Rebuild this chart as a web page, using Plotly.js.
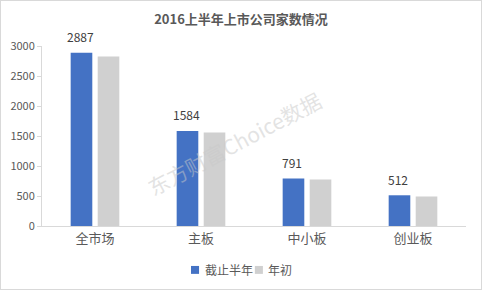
<!DOCTYPE html>
<html><head><meta charset="utf-8">
<script src="https://cdn.plot.ly/plotly-3.0.1.min.js"></script>
<style>
html,body{margin:0;padding:0;background:#fff;}
#wrap{width:482px;height:290px;box-sizing:border-box;border:1px solid #d9d9d9;overflow:hidden;}
#chart{width:480px;height:288px;}
</style></head>
<body><div id="wrap"><div id="chart"></div></div>
<script>
const categories = ["全市场", "主板", "中小板", "创业板"];
const seriesNames = ["截止半年", "年初"];
const seriesColors = ["#4472c4", "#d0d0d0"];
const midYear = [2887, 1584, 791, 512];
const yearStart = [2827, 1559, 776, 492];
const yTicks = [0, 500, 1000, 1500, 2000, 2500, 3000];
const titleText = "2016上半年上市公司家数情况";
const watermark = "东方财富Choice数据";

const font = "'Noto Sans CJK SC', 'Microsoft YaHei', sans-serif";
const data = [
  {type:"bar", name:seriesNames[0], x:categories, y:midYear,
   marker:{color:seriesColors[0]}, hoverinfo:"none", showlegend:false},
  {type:"bar", name:seriesNames[1], x:categories, y:yearStart,
   marker:{color:seriesColors[1]}, hoverinfo:"none", showlegend:false}
];
// data labels on the first series (offset to the left bar in each group)
const labelAnn = categories.map((c, i) => ({
  x:c, y:midYear[i], xref:"x", yref:"y", text:String(midYear[i]), showarrow:false,
  xshift:-15, yshift:16, font:{size:12, color:"#404040", family:font}
}));
// custom legend: swatches + names
const legendPos = [{sq:0.3514, tx:0.380}, {sq:0.502, tx:0.529}];
const legendAnn = seriesNames.map((n, i) => ({
  text:n, x:legendPos[i].tx, y:-0.244, xref:"paper", yref:"paper", xanchor:"left", yanchor:"middle",
  showarrow:false, font:{size:12, color:"#595959", family:font}
}));
const legendShapes = seriesNames.map((n, i) => ({
  type:"rect", xref:"paper", yref:"paper", x0:legendPos[i].sq, x1:legendPos[i].sq + 0.019,
  y0:-0.222, y1:-0.266, fillcolor:seriesColors[i], line:{width:0}
}));

const layout = {
  width:480, height:288,
  margin:{l:41, r:15, t:45, b:63},
  paper_bgcolor:"#fff", plot_bgcolor:"#fff",
  font:{family:font, color:"#595959", size:11},
  title:{text:"<b>"+titleText+"</b>", x:0.5, xanchor:"center", y:0.935, yanchor:"middle",
         font:{size:13, color:"#595959", family:font}},
  bargap:0.49, bargroupgap:0.2, barmode:"group",
  xaxis:{showline:true, linecolor:"#d9d9d9", linewidth:1, ticks:"", showgrid:false,
         tickfont:{size:13, color:"#595959"}, fixedrange:true},
  yaxis:{range:[0,3000], tickvals:yTicks, showline:true, linecolor:"#d9d9d9", linewidth:1,
         ticks:"outside", ticklen:4, tickcolor:"#d9d9d9", showgrid:false, zeroline:false,
         tickfont:{size:11, color:"#595959"}, fixedrange:true},
  showlegend:false,
  shapes:legendShapes,
  annotations:[{text:watermark, xref:"paper", yref:"paper", x:0.455, y:0.46,
    showarrow:false, textangle:-28, font:{size:21, color:"rgba(200,200,200,0.5)", family:font}}]
    .concat(labelAnn, legendAnn)
};
Plotly.newPlot("chart", data, layout, {displayModeBar:false, staticPlot:true});
</script></body></html>
